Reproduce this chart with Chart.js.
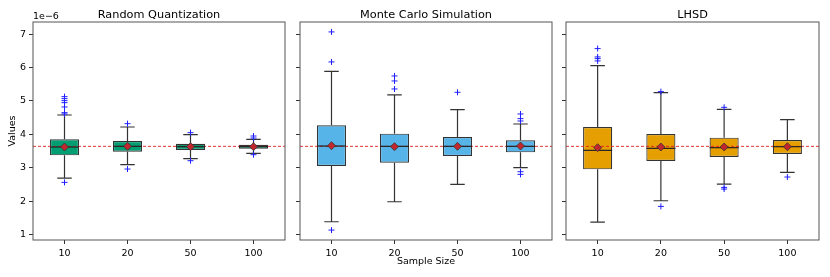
<!DOCTYPE html>
<html>
<head>
<meta charset="utf-8">
<script src="https://cdn.jsdelivr.net/npm/chart.js@4.4.1/dist/chart.umd.min.js"></script>
<style>
  body { margin: 0; background: #fff; }
  #wrap { position: relative; width: 830px; height: 277px; }
  #wrap canvas { position: absolute; top: 0; }
</style>
</head>
<body>
<div id="wrap">
  <canvas id="rqChart" width="290" height="277" style="left:0px"></canvas>
  <canvas id="mcChart" width="267" height="277" style="left:290px"></canvas>
  <canvas id="lhsdChart" width="273" height="277" style="left:557px"></canvas>
</div>
<script>
// values are in units of 1e-6
var sampleSizes = ['10', '20', '50', '100'];
var refMean = 3.64;

// Random Quantization
var rqLow = [2.69, 3.09, 3.27, 3.43];
var rqQ1 = [3.37, 3.48, 3.53, 3.57];
var rqMedian = [3.62, 3.64, 3.63, 3.63];
var rqQ3 = [3.85, 3.80, 3.72, 3.69];
var rqHigh = [4.58, 4.22, 3.99, 3.85];
var rqMean = [3.62, 3.64, 3.63, 3.63];
var rqOutliers = [
    [5.13, 5.07, 5.01, 4.95, 4.82, 4.65, 4.61, 2.56],
    [4.32, 2.96],
    [4.05, 3.21],
    [3.95, 3.89, 3.39]
];

// Monte Carlo Simulation
var mcLow = [1.38, 1.98, 2.50, 3.00];
var mcQ1 = [3.05, 3.15, 3.35, 3.46];
var mcMedian = [3.65, 3.64, 3.64, 3.64];
var mcQ3 = [4.27, 4.02, 3.92, 3.82];
var mcHigh = [5.89, 5.18, 4.74, 4.31];
var mcMean = [3.66, 3.63, 3.64, 3.65];
var mcOutliers = [
    [7.07, 6.17, 1.13],
    [5.75, 5.60, 5.36],
    [5.26],
    [4.61, 4.47, 4.40, 2.88, 2.80]
];

// LHSD
var lhsdLow = [1.37, 2.01, 2.51, 2.86];
var lhsdQ1 = [2.95, 3.20, 3.32, 3.41];
var lhsdMedian = [3.52, 3.58, 3.60, 3.63];
var lhsdQ3 = [4.22, 4.01, 3.90, 3.83];
var lhsdHigh = [6.06, 5.25, 4.75, 4.44];
var lhsdMean = [3.60, 3.62, 3.62, 3.63];
var lhsdOutliers = [
    [6.57, 6.32, 6.27, 6.20],
    [5.28, 1.84],
    [4.81, 2.41, 2.36],
    [2.72]
];

var yTicks = [1, 2, 3, 4, 5, 6, 7];
var fontFamily = "'DejaVu Sans', sans-serif";

// whiskers, medians, reference line, frame and texts
var boxExtras = {
    id: 'boxExtras',
    beforeDatasetsDraw: function (chart, args, opts) {
        var ctx = chart.ctx;
        var xs = chart.scales.x, ys = chart.scales.y;
        var boxW = chart.getDatasetMeta(0).data[0].width;
        ctx.save();
        ctx.strokeStyle = '#333';
        ctx.lineWidth = 1.2;
        for (var i = 0; i < opts.low.length; i++) {
            var x = xs.getPixelForValue(i);
            var capW = boxW / 4;
            ctx.beginPath();
            ctx.moveTo(x, ys.getPixelForValue(opts.low[i]));
            ctx.lineTo(x, ys.getPixelForValue(opts.q1[i]));
            ctx.moveTo(x, ys.getPixelForValue(opts.q3[i]));
            ctx.lineTo(x, ys.getPixelForValue(opts.high[i]));
            ctx.moveTo(x - capW, ys.getPixelForValue(opts.low[i]));
            ctx.lineTo(x + capW, ys.getPixelForValue(opts.low[i]));
            ctx.moveTo(x - capW, ys.getPixelForValue(opts.high[i]));
            ctx.lineTo(x + capW, ys.getPixelForValue(opts.high[i]));
            ctx.stroke();
        }
        ctx.restore();
    },
    afterDatasetDraw: function (chart, args, opts) {
        if (args.index !== 0) return;
        var ctx = chart.ctx;
        var xs = chart.scales.x, ys = chart.scales.y;
        var area = chart.chartArea;
        var boxW = chart.getDatasetMeta(0).data[0].width;
        ctx.save();
        // reference mean line
        ctx.strokeStyle = 'rgba(230,30,30,0.9)';
        ctx.lineWidth = 1;
        ctx.setLineDash([3, 2]);
        var yr = ys.getPixelForValue(opts.refLine);
        ctx.beginPath();
        ctx.moveTo(area.left, yr);
        ctx.lineTo(area.right, yr);
        ctx.stroke();
        ctx.setLineDash([]);
        // medians
        ctx.strokeStyle = '#222';
        ctx.lineWidth = 1.2;
        for (var i = 0; i < opts.median.length; i++) {
            var x = xs.getPixelForValue(i);
            var ym = ys.getPixelForValue(opts.median[i]);
            ctx.beginPath();
            ctx.moveTo(x - boxW / 2, ym);
            ctx.lineTo(x + boxW / 2, ym);
            ctx.stroke();
        }
        ctx.restore();
    },
    afterDraw: function (chart, args, opts) {
        var ctx = chart.ctx;
        var area = chart.chartArea;
        ctx.save();
        ctx.strokeStyle = '#555';
        ctx.lineWidth = 1;
        ctx.strokeRect(area.left, area.top, area.right - area.left, area.bottom - area.top);
        ctx.fillStyle = '#000';
        ctx.textAlign = 'center';
        ctx.textBaseline = 'middle';
        ctx.font = '11.3px ' + fontFamily;
        ctx.fillText(opts.title, (area.left + area.right) / 2, 15);
        ctx.font = '9.5px ' + fontFamily;
        if (opts.xTitle) {
            ctx.fillText(opts.xTitle, (area.left + area.right) / 2, 262);
        }
        if (opts.yTitle) {
            ctx.save();
            ctx.translate(13, (area.top + area.bottom) / 2);
            ctx.rotate(-Math.PI / 2);
            ctx.fillText(opts.yTitle, 0, 0);
            ctx.restore();
            ctx.textAlign = 'left';
            ctx.fillText('1e\u22126', area.left, 17);
        }
        ctx.restore();
    }
};

function outlierPoints(list) {
    var pts = [];
    list.forEach(function (vals, i) {
        vals.forEach(function (v) {
            pts.push({ x: sampleSizes[i], y: v });
        });
    });
    return pts;
}

function makePanel(id, color, st, yWidth, padRight, showY, xTitle) {
    var boxData = st.q1.map(function (q, i) { return [q, st.q3[i]]; });
    return new Chart(document.getElementById(id), {
        type: 'bar',
        data: {
            labels: sampleSizes,
            datasets: [{
                data: boxData,
                backgroundColor: color,
                borderColor: '#333',
                borderWidth: 1.2,
                borderSkipped: false,
                barPercentage: 0.46,
                categoryPercentage: 1,
                order: 3
            }, {
                type: 'line',
                data: outlierPoints(st.outliers),
                showLine: false,
                pointStyle: 'cross',
                pointRadius: 3,
                borderColor: '#1f1fff',
                borderWidth: 1,
                order: 2
            }, {
                type: 'line',
                data: st.mean,
                showLine: false,
                pointStyle: 'rectRot',
                pointRadius: 4,
                backgroundColor: '#c1272d',
                borderColor: '#333',
                borderWidth: 0.8,
                order: 1
            }]
        },
        options: {
            responsive: false,
            animation: false,
            events: [],
            layout: { padding: { top: 22, right: padRight, left: 0, bottom: 0 } },
            scales: {
                x: {
                    offset: true,
                    grid: { display: true, offset: false, drawOnChartArea: false, tickLength: 4, color: '#333' },
                    border: { display: false },
                    ticks: { color: '#000', font: { family: fontFamily, size: 9.5 }, padding: 4 },
                    afterFit: function (scale) { scale.height = 37; }
                },
                y: {
                    min: 0.833,
                    max: 7.367,
                    afterBuildTicks: function (scale) {
                        scale.ticks = yTicks.map(function (v) { return { value: v }; });
                    },
                    grid: { display: true, drawOnChartArea: false, tickLength: 4, color: '#333' },
                    border: { display: false },
                    ticks: {
                        color: '#000',
                        font: { family: fontFamily, size: 9.5 },
                        padding: 3,
                        callback: function (v) { return showY ? String(v) : ''; }
                    },
                    afterFit: function (scale) { scale.width = yWidth; }
                }
            },
            plugins: {
                legend: { display: false },
                tooltip: { enabled: false },
                boxExtras: {
                    low: st.low, q1: st.q1, median: st.median, q3: st.q3, high: st.high,
                    refLine: refMean, title: st.title,
                    yTitle: showY ? 'Values' : null,
                    xTitle: xTitle
                }
            }
        },
        plugins: [boxExtras]
    });
}

document.addEventListener('DOMContentLoaded', function () {
    makePanel('rqChart', '#009E73', {
        title: 'Random Quantization', low: rqLow, q1: rqQ1, median: rqMedian,
        q3: rqQ3, high: rqHigh, mean: rqMean, outliers: rqOutliers
    }, 33, 4, true, null);

    makePanel('mcChart', '#56B4E9', {
        title: 'Monte Carlo Simulation', low: mcLow, q1: mcQ1, median: mcMedian,
        q3: mcQ3, high: mcHigh, mean: mcMean, outliers: mcOutliers
    }, 10, 4, false, 'Sample Size');

    makePanel('lhsdChart', '#E69F00', {
        title: 'LHSD', low: lhsdLow, q1: lhsdQ1, median: lhsdMedian,
        q3: lhsdQ3, high: lhsdHigh, mean: lhsdMean, outliers: lhsdOutliers
    }, 9, 11, false, null);
});
</script>
</body>
</html>
